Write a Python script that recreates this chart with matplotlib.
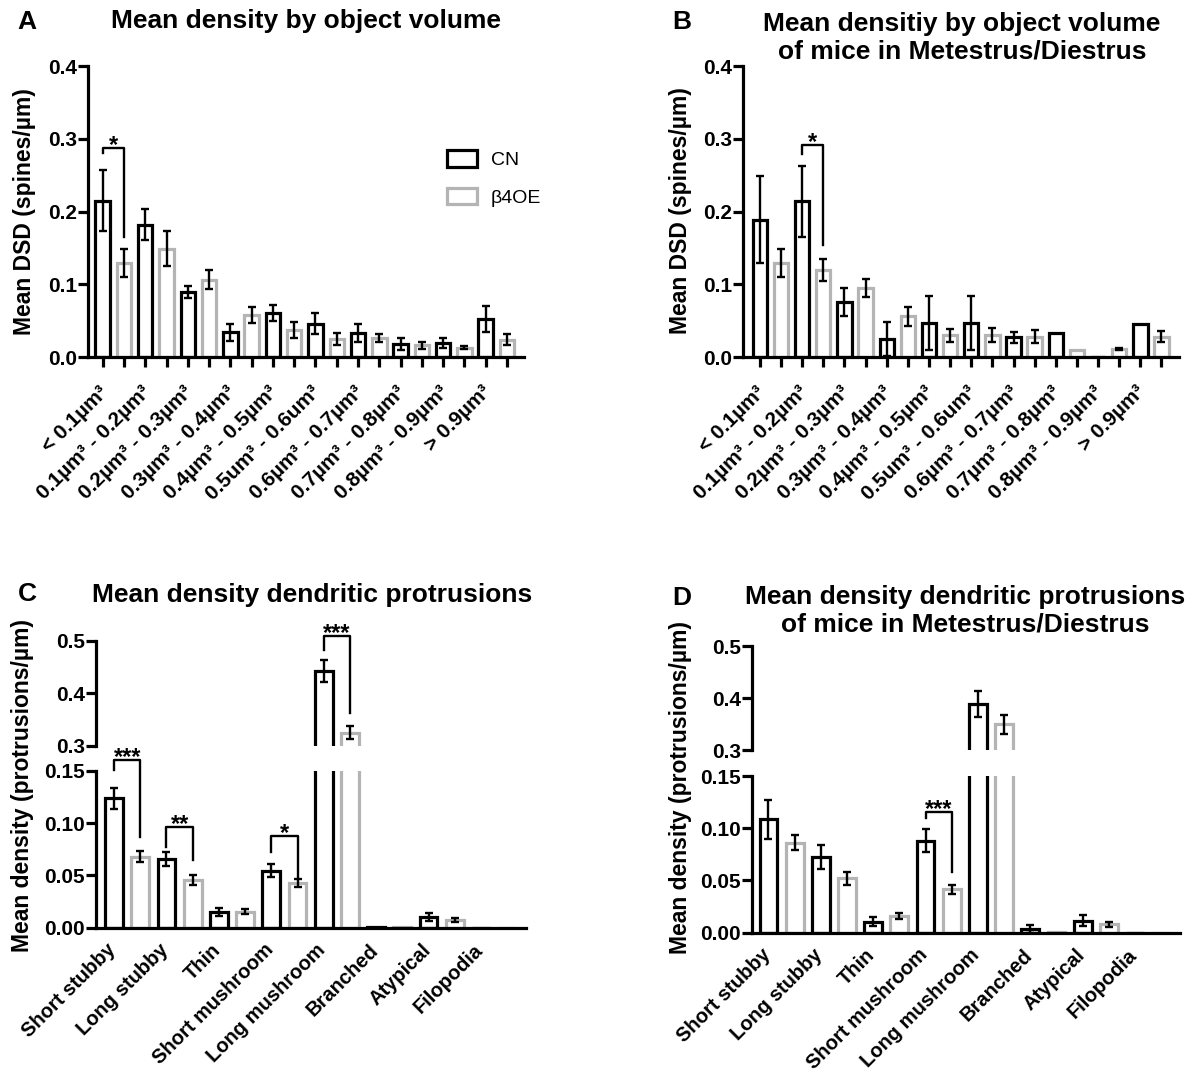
import numpy as np
import matplotlib
matplotlib.use("Agg")
import matplotlib.pyplot as plt
from matplotlib.patches import Patch
from matplotlib.transforms import ScaledTranslation

plt.rcParams["font.family"] = ["Liberation Sans", "DejaVu Sans"]
plt.rcParams["font.weight"] = "bold"

# ---- data ----
vol_labels = ["< 0.1µm³", "0.1µm³ - 0.2µm³", "0.2µm³ - 0.3µm³", "0.3µm³ - 0.4µm³",
              "0.4µm³ - 0.5µm³", "0.5um³ - 0.6um³", "0.6µm³ - 0.7µm³",
              "0.7µm³ - 0.8µm³", "0.8µm³ - 0.9µm³", "> 0.9µm³"]

# A: all mice
a_cn = [0.215, 0.182, 0.089, 0.034, 0.061, 0.046, 0.033, 0.018, 0.019, 0.052]
a_cn_sem = [0.042, 0.021, 0.0085, 0.012, 0.011, 0.014, 0.012, 0.008, 0.007, 0.018]
a_oe = [0.129, 0.149, 0.106, 0.058, 0.037, 0.025, 0.026, 0.016, 0.013, 0.024]
a_oe_sem = [0.019, 0.024, 0.013, 0.011, 0.011, 0.008, 0.006, 0.005, 0.002, 0.008]

# B: metestrus / diestrus
b_cn = [0.189, 0.214, 0.076, 0.025, 0.047, 0.047, 0.027, 0.033, 0.0, 0.046]
b_cn_sem = [0.060, 0.049, 0.019, 0.023, 0.037, 0.037, 0.008, 0.0, 0.0, 0.0]
b_oe = [0.129, 0.120, 0.095, 0.056, 0.030, 0.030, 0.028, 0.009, 0.0115, 0.028]
b_oe_sem = [0.019, 0.015, 0.012, 0.013, 0.009, 0.010, 0.009, 0.0, 0.0015, 0.008]

protr_labels = ["Short stubby", "Long stubby", "Thin", "Short mushroom",
                "Long mushroom", "Branched", "Atypical", "Filopodia"]

# C: all mice
c_cn = [0.124, 0.066, 0.0153, 0.0546, 0.443, 0.001, 0.0105, 0.0]
c_cn_sem = [0.010, 0.0065, 0.004, 0.0065, 0.021, 0.0, 0.004, 0.0]
c_oe = [0.068, 0.0456, 0.0153, 0.0425, 0.325, 0.001, 0.0073, 0.0]
c_oe_sem = [0.005, 0.005, 0.0025, 0.004, 0.012, 0.0, 0.0016, 0.0]

# D: metestrus / diestrus
d_cn = [0.1085, 0.072, 0.0105, 0.088, 0.389, 0.0035, 0.0115, 0.0]
d_cn_sem = [0.019, 0.0115, 0.0045, 0.011, 0.025, 0.0035, 0.005, 0.0]
d_oe = [0.0862, 0.052, 0.016, 0.0415, 0.350, 0.0005, 0.008, 0.0]
d_oe_sem = [0.007, 0.006, 0.003, 0.0045, 0.018, 0.0, 0.0025, 0.0]

# significance brackets: (group, left leg bottom, top, right leg bottom, stars)
a_sig = [(0, 0.280, 0.287, 0.165, "*")]
b_sig = [(1, 0.279, 0.291, 0.154, "*")]
c_sig = [(0, 0.151, 0.1606, 0.087, "***"), (1, 0.0776, 0.0967, 0.065, "**"),
         (3, 0.0728, 0.0881, 0.0472, "*")]
c_sig_top = [(4, 0.482, 0.5095, 0.3616, "***")]
d_sig = [(3, 0.1095, 0.1159, 0.058, "***")]

GRAY = "#b4b4b4"
W, H = 1197, 1074
fig = plt.figure(figsize=(W / 100, H / 100), dpi=100)


def px_axes(left, right, top, bottom):
    return fig.add_axes([left / W, 1 - bottom / H, (right - left) / W, (bottom - top) / H])


def style(ax, xaxis=True):
    for s in ["top", "right"]:
        ax.spines[s].set_visible(False)
    ax.spines["left"].set_linewidth(2.3)
    ax.spines["bottom"].set_linewidth(2.3)
    if not xaxis:
        ax.spines["bottom"].set_visible(False)
    ax.tick_params(axis="y", width=2.3, length=7, labelsize=15, pad=1)
    ax.tick_params(axis="x", width=2.3, length=7, labelsize=15)


def draw_bars(ax, cn, cn_sem, oe, oe_sem, width):
    x = np.arange(len(cn)) * 2
    ax.bar(x, cn, width, facecolor="white", edgecolor="black", lw=2.3)
    ax.bar(x + 1, oe, width, facecolor="white", edgecolor=GRAY, lw=2.3)
    for xs, vals, errs in [(x, cn, cn_sem), (x + 1, oe, oe_sem)]:
        vals = np.asarray(vals)
        errs = np.asarray(errs)
        m = errs > 0
        ax.errorbar(xs[m], vals[m], yerr=errs[m], fmt="none", ecolor="black",
                    elinewidth=1.7, capsize=3, capthick=1.7, zorder=3)


def brackets(ax, sig, fs=17):
    for g, yl, yt, yr, txt in sig:
        x0, x1 = 2 * g, 2 * g + 1
        ax.plot([x0, x0, x1, x1], [yl, yt, yt, yr], color="black", lw=1.7, clip_on=False)
        ax.annotate(txt, xy=((x0 + x1) / 2, yt), xytext=(0, -3), textcoords="offset points",
                    ha="center", va="baseline", fontsize=fs, fontweight="bold",
                    annotation_clip=False)


def xlabels(ax, labels, all_ticks, dx, pad, fs=15):
    n = len(labels)
    if all_ticks:
        ax.set_xticks(np.arange(2 * n))
        lab = []
        for l in labels:
            lab += [l, ""]
        ax.set_xticklabels(lab, rotation=45, ha="right", va="center",
                           rotation_mode="anchor", fontsize=fs)
    else:
        ax.set_xticks(np.arange(n) * 2)
        ax.set_xticklabels(labels, rotation=45, ha="right", va="center",
                           rotation_mode="anchor", fontsize=fs)
        ax.tick_params(axis="x", length=0)
    ax.tick_params(axis="x", pad=pad)
    off = ScaledTranslation(dx / 100, 0, fig.dpi_scale_trans)
    for t in ax.get_xticklabels():
        t.set_transform(t.get_transform() + off)


# ---- panel A ----
axA = px_axes(88, 524, 66, 357)
draw_bars(axA, a_cn, a_cn_sem, a_oe, a_oe_sem, 0.68)
style(axA)
axA.set_ylim(0, 0.4)
axA.set_xlim(-0.69, 19.8)
axA.set_yticks([0, 0.1, 0.2, 0.3, 0.4])
axA.set_yticklabels(["0.0", "0.1", "0.2", "0.3", "0.4"])
xlabels(axA, vol_labels, True, 2, 16)
brackets(axA, a_sig)
axA.legend(handles=[Patch(facecolor="white", edgecolor="black", lw=2.3, label="CN"),
                    Patch(facecolor="white", edgecolor=GRAY, lw=2.3, label="β4OE")],
           loc="upper left", bbox_to_anchor=(447 / W, 1 - 150 / H),
           bbox_transform=fig.transFigure, frameon=False, borderpad=0,
           borderaxespad=0, handlelength=1.55, handleheight=0.95, handletextpad=0.7,
           labelspacing=0.95, prop={"size": 14, "weight": "normal"})

# ---- panel B ----
axB = px_axes(743, 1179, 66, 357)
draw_bars(axB, b_cn, b_cn_sem, b_oe, b_oe_sem, 0.68)
style(axB)
axB.set_ylim(0, 0.4)
axB.set_xlim(-0.80, 19.83)
axB.set_yticks([0, 0.1, 0.2, 0.3, 0.4])
axB.set_yticklabels(["0.0", "0.1", "0.2", "0.3", "0.4"])
xlabels(axB, vol_labels, True, 2, 16)
brackets(axB, b_sig)


# ---- panels C and D (broken y axis) ----
def broken(left, right, top_t, bot_t, top_b, bot_b, x_left, cn, cn_sem, oe, oe_sem,
           sig_b, sig_t):
    axb = px_axes(left, right, top_b, bot_b)
    axt = px_axes(left, right, top_t, bot_t)
    axt.patch.set_visible(False)
    for ax in (axb, axt):
        draw_bars(ax, cn, cn_sem, oe, oe_sem, 0.68)
        ax.set_xlim(x_left, 15.72)
    style(axb)
    style(axt, xaxis=False)
    axb.set_ylim(0, 0.15)
    axb.set_yticks([0, 0.05, 0.10, 0.15])
    axb.set_yticklabels(["0.00", "0.05", "0.10", "0.15"])
    axt.set_ylim(0.3, 0.5)
    axt.set_yticks([0.3, 0.4, 0.5])
    axt.set_yticklabels(["0.3", "0.4", "0.5"])
    axt.set_xticks([])
    xlabels(axb, protr_labels, False, -1, 14, fs=14.5)
    brackets(axb, sig_b)
    brackets(axt, sig_t)
    return axb, axt


broken(96, 526, 640.7, 745.7, 771, 927.7, -0.69, c_cn, c_cn_sem, c_oe, c_oe_sem,
       c_sig, c_sig_top)
broken(752, 1180, 646, 750.3, 776, 932.7, -0.63, d_cn, d_cn_sem, d_oe, d_oe_sem,
       d_sig, [])

# ---- titles, panel letters, y labels ----
def ftext(x, y, s, **kw):
    fig.text(x / W, 1 - y / H, s, **kw)


tkw = dict(ha="center", va="center", fontsize=19, fontweight="bold")
ftext(306, 21, "Mean density by object volume", **tkw)
ftext(962, 38, "Mean densitiy by object volume\nof mice in Metestrus/Diestrus",
      linespacing=1.2, **tkw)
ftext(312, 595, "Mean density dendritic protrusions", **tkw)
ftext(965, 611, "Mean density dendritic protrusions\nof mice in Metestrus/Diestrus",
      linespacing=1.2, **tkw)

lkw = dict(ha="center", va="center", fontsize=19, fontweight="bold")
ftext(27, 22, "A", **lkw)
ftext(682, 22, "B", **lkw)
ftext(27, 594, "C", **lkw)
ftext(682, 598, "D", **lkw)

ykw = dict(ha="center", va="center", rotation=90, fontsize=16.5, fontweight="bold")
ftext(25, 212, "Mean DSD (spines/µm)", **ykw)
ftext(680, 211, "Mean DSD (spines/µm)", **ykw)
ftext(23, 785, "Mean density (protrusions/µm)", **ykw)
ftext(681, 787, "Mean density (protrusions/µm)", **ykw)

fig.savefig("out.png", dpi=100)
